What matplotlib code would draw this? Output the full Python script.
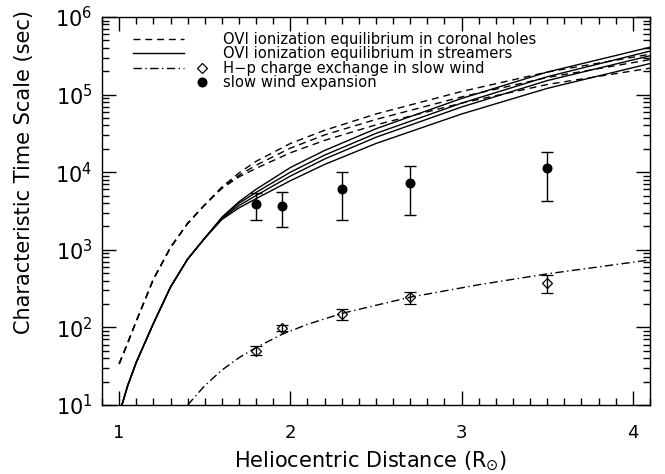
import numpy as np
import matplotlib
matplotlib.use('Agg')
import matplotlib.pyplot as plt
from matplotlib.lines import Line2D
from matplotlib.legend_handler import HandlerBase
from matplotlib.ticker import LogLocator, MultipleLocator, LogFormatterMathtext, NullFormatter

plt.rcParams['mathtext.default'] = 'regular'

# OVI ionization equilibrium, coronal holes (log10 seconds)
ch_x = [1.00, 1.05, 1.10, 1.20, 1.30, 1.40, 1.50, 1.60, 1.70, 1.80, 2.00, 2.20, 2.50, 3.00, 3.50, 4.10]
ch_log = [
    [1.53, 1.80, 2.08, 2.62, 3.03, 3.34, 3.58, 3.81, 3.99, 4.14, 4.37, 4.54, 4.75, 5.04, 5.29, 5.52],
    [1.53, 1.80, 2.08, 2.62, 3.03, 3.34, 3.58, 3.80, 3.96, 4.09, 4.31, 4.48, 4.68, 4.97, 5.22, 5.45],
    [1.53, 1.80, 2.08, 2.62, 3.03, 3.34, 3.58, 3.79, 3.94, 4.05, 4.25, 4.41, 4.61, 4.89, 5.13, 5.34],
]

# OVI ionization equilibrium, streamers (log10 seconds)
st_x = [1.00, 1.05, 1.10, 1.20, 1.30, 1.40, 1.50, 1.60, 1.70, 1.80, 2.00, 2.20, 2.50, 3.00, 3.50, 4.10]
st_log = [
    [0.88, 1.25, 1.55, 2.05, 2.52, 2.88, 3.15, 3.42, 3.62, 3.78, 4.06, 4.28, 4.56, 4.95, 5.29, 5.61],
    [0.88, 1.25, 1.55, 2.05, 2.52, 2.88, 3.15, 3.41, 3.60, 3.74, 4.00, 4.22, 4.50, 4.89, 5.23, 5.56],
    [0.88, 1.25, 1.55, 2.05, 2.52, 2.88, 3.15, 3.40, 3.57, 3.70, 3.95, 4.17, 4.45, 4.84, 5.18, 5.50],
    [0.88, 1.25, 1.55, 2.05, 2.52, 2.88, 3.15, 3.39, 3.54, 3.66, 3.89, 4.10, 4.37, 4.75, 5.08, 5.40],
]

# H-p charge exchange in slow wind (log10 seconds)
hp_x = [1.40, 1.50, 1.60, 1.70, 1.80, 1.95, 2.10, 2.30, 2.70, 3.10, 3.50, 4.10]
hp_log = [1.00, 1.25, 1.45, 1.61, 1.74, 1.91, 2.04, 2.18, 2.39, 2.55, 2.69, 2.87]

# measured points
obs_r = [1.8, 1.95, 2.3, 2.7, 3.5]
hp_obs = [50, 98, 150, 243, 375]
hp_lo = [44, 89, 123, 200, 278]
hp_hi = [58, 107, 174, 284, 478]
exp_obs = [3930, 3720, 6050, 7300, 11200]
exp_lo = [2450, 1950, 2400, 2780, 4280]
exp_hi = [5450, 5500, 9950, 12000, 18300]

DASH = (0, (5, 3.5))
DASHDOT = (0, (6, 2.5, 1, 2.5))


class KeyHandler(HandlerBase):
    # line sample on the left, symbol on the right (IDL style key)
    def create_artists(self, legend, orig, xdescent, ydescent, width, height, fontsize, trans):
        y = height / 2 - ydescent
        arts = []
        if orig.get_linestyle() not in ('None', 'none', ''):
            ln = Line2D([-xdescent, -xdescent + 0.66 * width], [y, y])
            ln.update_from(orig)
            ln.set_marker('None')
            arts.append(ln)
        if orig.get_marker() not in ('None', 'none', '', None):
            mk = Line2D([-xdescent + 0.9 * width], [y])
            mk.update_from(orig)
            mk.set_linestyle('None')
            arts.append(mk)
        for a in arts:
            a.set_transform(trans)
        return arts


fig = plt.figure(figsize=(6.65, 4.74), dpi=100)
ax = fig.add_axes([0.1534, 0.1455, 0.824, 0.8187])

for c in ch_log:
    ax.plot(ch_x, 10 ** np.array(c), color='k', lw=1.0, linestyle=DASH)
for c in st_log:
    ax.plot(st_x, 10 ** np.array(c), color='k', lw=1.0)
ax.plot(hp_x, 10 ** np.array(hp_log), color='k', lw=1.0, linestyle=DASHDOT)

hp_obs = np.array(hp_obs)
exp_obs = np.array(exp_obs)
ax.errorbar(obs_r, hp_obs, yerr=[hp_obs - np.array(hp_lo), np.array(hp_hi) - hp_obs],
            fmt='D', ms=5.5, mfc='none', mec='k', mew=0.9, ecolor='k', elinewidth=1.0, capsize=4, capthick=1.0)
ax.errorbar(obs_r, exp_obs, yerr=[exp_obs - np.array(exp_lo), np.array(exp_hi) - exp_obs],
            fmt='o', ms=6.2, mfc='k', mec='k', ecolor='k', elinewidth=1.0, capsize=4, capthick=1.0)

ax.set_yscale('log')
ax.set_xlim(0.9, 4.1)
ax.set_ylim(10, 1e6)

ax.xaxis.set_major_locator(MultipleLocator(1))
ax.xaxis.set_minor_locator(MultipleLocator(0.1))
ax.yaxis.set_major_locator(LogLocator(base=10))
ax.yaxis.set_minor_locator(LogLocator(base=10, subs=np.arange(2, 10)))
ax.yaxis.set_major_formatter(LogFormatterMathtext())
ax.yaxis.set_minor_formatter(NullFormatter())

ax.tick_params(which='both', direction='in', top=True, right=True, width=1.0, colors='k')
ax.tick_params(which='major', length=10)
ax.tick_params(which='minor', length=5)
ax.tick_params(axis='x', which='major', pad=14, labelsize=13)
ax.tick_params(axis='y', which='major', pad=7, labelsize=15)
for s in ax.spines.values():
    s.set_linewidth(1.0)

ax.set_xlabel(r'Heliocentric Distance (R$_{\odot}$)', fontsize=15)
ax.set_ylabel('Characteristic Time Scale (sec)', fontsize=15)
ax.xaxis.set_label_coords(0.49, -0.115)
ax.yaxis.set_label_coords(-0.125, 0.6)

handles = [
    Line2D([], [], color='k', lw=1.0, linestyle=DASH),
    Line2D([], [], color='k', lw=1.0),
    Line2D([], [], color='k', lw=1.0, linestyle=DASHDOT, marker='D', ms=5, mfc='none', mec='k', mew=0.9),
    Line2D([], [], color='k', linestyle='None', marker='o', ms=6.2, mfc='k', mec='k'),
]
labels = ['OVI ionization equilibrium in coronal holes',
          'OVI ionization equilibrium in streamers',
          'H\u2212p charge exchange in slow wind',
          'slow wind expansion']
ax.legend(handles, labels, handler_map={Line2D: KeyHandler()}, loc='upper left',
          bbox_to_anchor=(0.0566, 0.962), frameon=False, fontsize=10.6,
          handlelength=5.2, handletextpad=0.9, labelspacing=-0.03, borderaxespad=0, borderpad=0)

fig.savefig('out.png', dpi=100)
